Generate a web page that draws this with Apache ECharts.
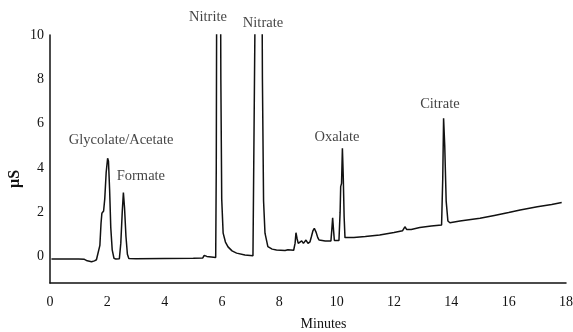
<!DOCTYPE html>
<html>
<head>
<meta charset="utf-8">
<script src="https://cdn.jsdelivr.net/npm/echarts@6/dist/echarts.min.js"></script>
<style>
html,body{margin:0;padding:0;background:#fff;}
#chart{width:573px;height:332px;}
</style>
</head>
<body>
<div id="chart"></div>
<script>
// Retention time (minutes)
var timeMin = [
 0.05,0.5,1.0,1.2,1.3,1.45,1.55,1.62,1.68,1.74,1.78,1.81,1.87,1.91,1.96,2.01,2.04,2.08,2.12,2.17,2.23,2.3,
 2.42,2.47,2.52,2.56,2.6,2.65,2.7,2.75,3.0,4.0,5.0,5.33,5.38,5.42,5.47,5.52,
 5.78,5.80,5.83,5.88,5.93,5.96,5.99,6.04,6.12,6.21,6.35,6.51,6.8,7.08,
 7.13,7.16,7.22,7.3,7.37,7.41,7.45,7.5,7.6,7.75,7.9,8.2,8.3,8.5,
 8.55,8.58,8.62,8.66,8.72,8.78,8.84,8.93,9.0,9.07,9.12,9.17,9.22,9.28,9.34,9.39,9.6,9.8,
 9.83,9.86,9.89,9.92,10.08,10.12,10.14,10.17,10.2,10.23,10.26,10.29,10.35,10.6,11.0,11.5,
 12.0,12.3,12.38,12.44,12.6,12.9,13.3,13.66,13.7,13.73,13.77,13.82,13.88,13.95,
 14.3,15.0,15.5,16.0,16.4,17.0,17.5,17.85
];
// Conductivity (µS)
var signal = [
 -0.12,-0.12,-0.12,-0.13,-0.2,-0.24,-0.2,-0.15,-0.1,0.5,1.5,1.95,2.05,2.6,3.8,4.43,4.3,3.0,1.3,0.3,-0.08,-0.12,
 -0.1,0.6,2.0,2.88,2.2,0.9,0.1,-0.09,-0.1,-0.09,-0.08,-0.07,0.05,0.1,0.0,-0.05,
 -0.05,4,20,40,20,8,2.6,1.05,0.65,0.43,0.25,0.15,0.06,0.03,
 0.05,12,35,40,20,8,2.5,1.05,0.44,0.33,0.29,0.27,0.3,0.28,
 0.6,1.07,0.8,0.59,0.62,0.7,0.59,0.74,0.59,0.66,0.9,1.15,1.27,1.1,0.85,0.74,0.7,0.7,
 1.2,1.75,1.2,0.72,0.72,2.0,3.15,3.3,4.88,3.6,1.8,0.85,0.8,0.85,0.9,0.97,
 1.08,1.16,1.34,1.22,1.22,1.31,1.37,1.42,3.5,6.24,5.0,2.5,1.6,1.52,
 1.6,1.72,1.85,1.98,2.1,2.24,2.35,2.44
];
// Peak labels and their positions (minutes, µS)
var peakNames = ['Glycolate/Acetate','Formate','Nitrite','Nitrate','Oxalate','Citrate'];
var peakLabelX = [2.48,3.17,5.51,7.43,10.01,13.6];
var peakLabelY = [5.26,3.63,10.8,10.54,5.39,6.88];
var xTicks = [0,2,4,6,8,10,12,14,16,18];
var yTicks = [0,2,4,6,8,10];

var trace = timeMin.map(function(t,i){return [t, signal[i]];});
var labels = peakNames.map(function(n,i){return [peakLabelX[i], peakLabelY[i], n];});

var serif = 'Liberation Serif, Times New Roman, serif';
var chart = echarts.init(document.getElementById('chart'), null, {renderer:'canvas'});
chart.setOption({
  animation:false,
  backgroundColor:'#fff',
  grid:{left:50,right:7,top:35,bottom:49,containLabel:false,outerBoundsMode:'none'},
  xAxis:{
    type:'value',min:xTicks[0],max:xTicks[xTicks.length-1],interval:2,
    name:'Minutes',nameLocation:'middle',nameGap:34,nameMoveOverlap:false,
    nameTextStyle:{fontFamily:serif,fontSize:14,color:'#111',padding:[0,0,0,31]},
    axisLine:{show:true,onZero:false,lineStyle:{color:'#111',width:1.5}},
    axisTick:{show:false},
    splitLine:{show:false},
    axisLabel:{fontFamily:serif,fontSize:14,color:'#111',margin:12}
  },
  yAxis:{
    type:'value',min:-1.2,max:10,
    name:'µS',nameLocation:'middle',nameGap:27,nameRotate:90,nameMoveOverlap:false,
    nameTextStyle:{fontFamily:serif,fontSize:16,fontWeight:'bold',color:'#111',padding:[0,40,0,0]},
    axisLine:{show:true,lineStyle:{color:'#111',width:1.5}},
    axisTick:{show:false},
    splitLine:{show:false},
    axisLabel:{fontFamily:serif,fontSize:14,color:'#111',margin:6,customValues:yTicks}
  },
  series:[
    {type:'line',data:trace,showSymbol:false,clip:true,
     lineStyle:{color:'#111',width:1.5},silent:true},
    {type:'scatter',data:labels,symbolSize:0,clip:false,silent:true,
     label:{show:true,position:'inside',formatter:function(p){return p.data[2];},
       fontFamily:serif,fontSize:14.5,color:'#111'}}
  ]
});
</script>
</body>
</html>
